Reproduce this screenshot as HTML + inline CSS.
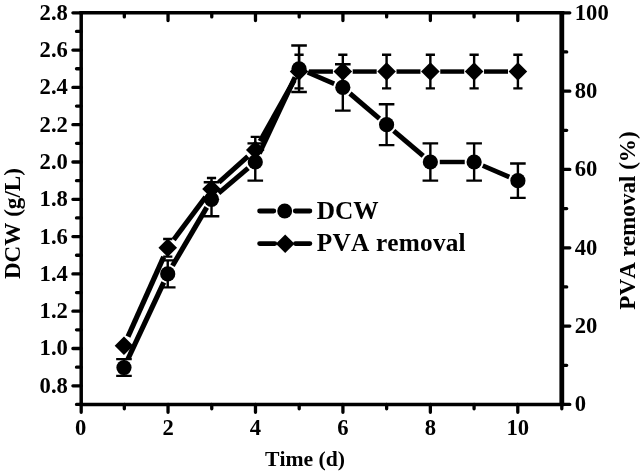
<!DOCTYPE html>
<html lang="en"><head><meta charset="utf-8"><title>DCW and PVA removal over time</title>
<style>html,body{margin:0;padding:0;background:#fff}svg{display:block;filter:blur(0.35px)}</style></head>
<body>
<svg width="644" height="475" viewBox="0 0 644 475">
<rect width="644" height="475" fill="#fff"/>
<g fill="none" stroke="#000" stroke-linecap="butt">
<path d="M81.2 11.049999999999999 V406.09999999999997" stroke-width="3.5"/>
<path d="M79.60000000000001 12.7 H564.1999999999999" stroke-width="3.5"/>
<path d="M79.60000000000001 404.45 H564.1999999999999" stroke-width="3.5"/>
<path d="M561.8 11.049999999999999 V406.09999999999997" stroke-width="4.8"/>
<path d="M81.2 404.45 H76.5 M81.2 385.80 H72.9 M81.2 367.15 H76.5 M81.2 348.50 H72.9 M81.2 329.85 H76.5 M81.2 311.20 H72.9 M81.2 292.55 H76.5 M81.2 273.90 H72.9 M81.2 255.25 H76.5 M81.2 236.60 H72.9 M81.2 217.95 H76.5 M81.2 199.30 H72.9 M81.2 180.65 H76.5 M81.2 162.00 H72.9 M81.2 143.35 H76.5 M81.2 124.70 H72.9 M81.2 106.05 H76.5 M81.2 87.40 H72.9 M81.2 68.75 H76.5 M81.2 50.10 H72.9 M81.2 31.45 H76.5 M81.2 12.80 H72.9 M561.8 404.45 H569.8 M561.8 365.28 H566.6999999999999 M561.8 326.12 H569.8 M561.8 286.95 H566.6999999999999 M561.8 247.79 H569.8 M561.8 208.62 H566.6999999999999 M561.8 169.46 H569.8 M561.8 130.29 H566.6999999999999 M561.8 91.13 H569.8 M561.8 51.96 H566.6999999999999 M561.8 12.80 H569.8 M81.20 404.45 V412.25 M124.32 404.45 V408.84999999999997 M124.32 12.7 V16.9 M168.04 404.45 V412.25 M168.04 12.7 V20.5 M211.76 404.45 V408.84999999999997 M211.76 12.7 V16.9 M255.48 404.45 V412.25 M255.48 12.7 V20.5 M299.20 404.45 V408.84999999999997 M299.20 12.7 V16.9 M342.92 404.45 V412.25 M342.92 12.7 V20.5 M386.64 404.45 V408.84999999999997 M386.64 12.7 V16.9 M430.36 404.45 V412.25 M430.36 12.7 V20.5 M474.08 404.45 V408.84999999999997 M474.08 12.7 V16.9 M517.80 404.45 V412.25 M517.80 12.7 V20.5 M561.80 404.45 V408.84999999999997" stroke-width="3.3" stroke-linecap="round"/>
</g>
<g stroke="#000" fill="#000">
<g fill="none"><path d="M128.01 336.66 L163.70 256.83" stroke-width="5.18"/><path d="M173.65 239.85 L205.60 196.98" stroke-width="5.09"/><path d="M218.89 182.44 L247.90 156.48" stroke-width="4.98"/><path d="M260.11 141.24 L294.22 80.19" stroke-width="5.15"/><path d="M308.95 71.55 L332.92 71.55" stroke-width="4.45"/><path d="M352.72 71.55 L376.69 71.55" stroke-width="4.45"/><path d="M396.49 71.55 L420.46 71.55" stroke-width="4.45"/><path d="M440.26 71.55 L464.23 71.55" stroke-width="4.45"/><path d="M484.03 71.55 L508.00 71.55" stroke-width="4.45"/></g>
<path d="M167.74 238.99 V256.59 M163.14 238.99 h9.2 M163.14 256.59 h9.2 M211.51 178.04 V200.04 M206.91 178.04 h9.2 M206.91 200.04 h9.2 M255.28 136.88 V162.88 M250.68 136.88 h9.2 M250.68 162.88 h9.2 M299.05 54.75 V88.35 M294.45 54.75 h9.2 M294.45 88.35 h9.2 M342.82 54.75 V88.35 M338.22 54.75 h9.2 M338.22 88.35 h9.2 M386.59 54.75 V88.35 M381.99 54.75 h9.2 M381.99 88.35 h9.2 M430.36 54.75 V88.35 M425.76 54.75 h9.2 M425.76 88.35 h9.2 M474.13 54.75 V88.35 M469.53 54.75 h9.2 M469.53 88.35 h9.2 M517.90 54.75 V88.35 M513.30 54.75 h9.2 M513.30 88.35 h9.2" fill="none" stroke-width="2.4"/>
<path d="M114.67 345.70 L123.97 336.40 L133.27 345.70 L123.97 355.00Z" stroke="none"/>
<path d="M158.44 247.79 L167.74 238.49 L177.04 247.79 L167.74 257.09Z" stroke="none"/>
<path d="M202.21 189.04 L211.51 179.74 L220.81 189.04 L211.51 198.34Z" stroke="none"/>
<path d="M245.98 149.88 L255.28 140.58 L264.58 149.88 L255.28 159.18Z" stroke="none"/>
<path d="M289.75 71.55 L299.05 62.25 L308.35 71.55 L299.05 80.85Z" stroke="none"/>
<path d="M333.52 71.55 L342.82 62.25 L352.12 71.55 L342.82 80.85Z" stroke="none"/>
<path d="M377.29 71.55 L386.59 62.25 L395.89 71.55 L386.59 80.85Z" stroke="none"/>
<path d="M421.06 71.55 L430.36 62.25 L439.66 71.55 L430.36 80.85Z" stroke="none"/>
<path d="M464.83 71.55 L474.13 62.25 L483.43 71.55 L474.13 80.85Z" stroke="none"/>
<path d="M508.60 71.55 L517.90 62.25 L527.20 71.55 L517.90 80.85Z" stroke="none"/>
<g fill="none"><path d="M127.95 359.01 L163.76 282.42" stroke-width="5.17"/><path d="M172.50 265.79 L206.75 207.41" stroke-width="5.14"/><path d="M218.66 193.20 L248.13 168.10" stroke-width="4.97"/><path d="M259.27 153.49 L295.06 77.26" stroke-width="5.17"/><path d="M307.70 72.43 L334.17 83.72" stroke-width="4.76"/><path d="M349.97 93.50 L379.44 118.60" stroke-width="4.97"/><path d="M393.74 130.80 L423.21 155.90" stroke-width="4.97"/><path d="M439.76 162.00 L464.73 162.00" stroke-width="4.45"/><path d="M482.78 165.68 L509.25 176.97" stroke-width="4.76"/></g>
<path d="M123.97 359.12 V375.92 M116.17 359.12 h15.6 M116.17 375.92 h15.6 M167.74 260.40 V287.40 M159.94 260.40 h15.6 M159.94 287.40 h15.6 M211.51 182.30 V216.30 M203.71 182.30 h15.6 M203.71 216.30 h15.6 M255.28 143.40 V180.60 M247.48 143.40 h15.6 M247.48 180.60 h15.6 M299.05 45.55 V91.95 M291.25 45.55 h15.6 M291.25 91.95 h15.6 M342.82 64.20 V110.60 M335.02 64.20 h15.6 M335.02 110.60 h15.6 M386.59 104.30 V145.10 M378.79 104.30 h15.6 M378.79 145.10 h15.6 M430.36 143.40 V180.60 M422.56 143.40 h15.6 M422.56 180.60 h15.6 M474.13 143.40 V180.60 M466.33 143.40 h15.6 M466.33 180.60 h15.6 M517.90 163.45 V197.85 M510.10 163.45 h15.6 M510.10 197.85 h15.6" fill="none" stroke-width="2.4"/>
<circle cx="123.97" cy="367.52" r="7.6" stroke="none"/>
<circle cx="167.74" cy="273.90" r="7.6" stroke="none"/>
<circle cx="211.51" cy="199.30" r="7.6" stroke="none"/>
<circle cx="255.28" cy="162.00" r="7.6" stroke="none"/>
<circle cx="299.05" cy="68.75" r="7.6" stroke="none"/>
<circle cx="342.82" cy="87.40" r="7.6" stroke="none"/>
<circle cx="386.59" cy="124.70" r="7.6" stroke="none"/>
<circle cx="430.36" cy="162.00" r="7.6" stroke="none"/>
<circle cx="474.13" cy="162.00" r="7.6" stroke="none"/>
<circle cx="517.90" cy="180.65" r="7.6" stroke="none"/>
<path d="M259.6 211 H273.8 M295.3 211 H309.9 M259.6 243.6 H274.8 M295.5 243.6 H309.9" fill="none" stroke-width="4.8" stroke-linecap="round"/>
<circle cx="284.7" cy="211" r="7.45" stroke="none"/>
<path d="M275.90 243.70 L285.20 234.40 L294.50 243.70 L285.20 253.00Z" stroke="none"/>
</g>
<g font-family="'Liberation Serif', 'Times New Roman', serif" font-weight="bold" fill="#000" style="font-kerning:none">
<g font-size="22px">
<text transform="translate(67.90 392.70) scale(1.03 1.07)" text-anchor="end">0.8</text>
<text transform="translate(67.90 355.40) scale(1.03 1.07)" text-anchor="end">1.0</text>
<text transform="translate(67.90 318.10) scale(1.03 1.07)" text-anchor="end">1.2</text>
<text transform="translate(67.90 280.80) scale(1.03 1.07)" text-anchor="end">1.4</text>
<text transform="translate(67.90 243.50) scale(1.03 1.07)" text-anchor="end">1.6</text>
<text transform="translate(67.90 206.20) scale(1.03 1.07)" text-anchor="end">1.8</text>
<text transform="translate(67.90 168.90) scale(1.03 1.07)" text-anchor="end">2.0</text>
<text transform="translate(67.90 131.60) scale(1.03 1.07)" text-anchor="end">2.2</text>
<text transform="translate(67.90 94.30) scale(1.03 1.07)" text-anchor="end">2.4</text>
<text transform="translate(67.90 57.00) scale(1.03 1.07)" text-anchor="end">2.6</text>
<text transform="translate(67.90 19.70) scale(1.03 1.07)" text-anchor="end">2.8</text>
<text transform="translate(574.80 411.25) scale(1.03 1.07)" text-anchor="start">0</text>
<text transform="translate(574.80 332.92) scale(1.03 1.07)" text-anchor="start">20</text>
<text transform="translate(574.80 254.59) scale(1.03 1.07)" text-anchor="start">40</text>
<text transform="translate(574.80 176.26) scale(1.03 1.07)" text-anchor="start">60</text>
<text transform="translate(574.80 97.93) scale(1.03 1.07)" text-anchor="start">80</text>
<text transform="translate(574.80 19.60) scale(1.03 1.07)" text-anchor="start">100</text>
<text transform="translate(80.60 434.90) scale(1.03 1.07)" text-anchor="middle">0</text>
<text transform="translate(168.04 434.90) scale(1.03 1.07)" text-anchor="middle">2</text>
<text transform="translate(255.48 434.90) scale(1.03 1.07)" text-anchor="middle">4</text>
<text transform="translate(342.92 434.90) scale(1.03 1.07)" text-anchor="middle">6</text>
<text transform="translate(430.36 434.90) scale(1.03 1.07)" text-anchor="middle">8</text>
<text transform="translate(517.80 434.90) scale(1.03 1.07)" text-anchor="middle">10</text>
</g>
<text x="305" y="466.1" font-size="21.7px" text-anchor="middle">Time (d)</text>
<text transform="translate(20.3 223.6) rotate(-90)" font-size="23.1px" text-anchor="middle">DCW (g/L)</text>
<text transform="translate(635.1 220.5) rotate(-90)" font-size="23.1px" text-anchor="middle">PVA removal (%)</text>
<text x="316.8" y="218.7" font-size="25.3px">DCW</text>
<text x="316.8" y="250.6" font-size="25.3px" letter-spacing="0.2">PVA removal</text>
</g>
</svg>
</body></html>
